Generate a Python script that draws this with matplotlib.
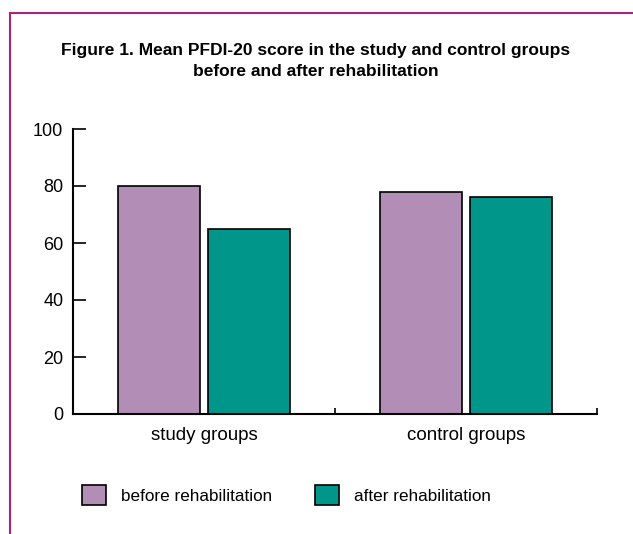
import matplotlib
matplotlib.use("Agg")
import matplotlib.pyplot as plt
from matplotlib.lines import Line2D
import numpy as np

plt.rcParams['font.family'] = ['Liberation Sans', 'DejaVu Sans']

# values
groups = ['study groups', 'control groups']
before = [80, 78]
after = [65, 76]
series_names = ['before rehabilitation', 'after rehabilitation']
colors = ['#b28db5', '#00968a']

fig = plt.figure(figsize=(6.33, 5.34), dpi=100)
ax = fig.add_axes([73/633, 1-414/534, (597-73)/633, (414-129)/534])

x = np.arange(len(groups))
w = 0.313
gap = 0.034
ax.bar(x - (w+gap)/2, before, w, color=colors[0], edgecolor='black', linewidth=1.2, label=series_names[0])
ax.bar(x + (w+gap)/2, after, w, color=colors[1], edgecolor='black', linewidth=1.2, label=series_names[1])

ax.set_xlim(-0.5, 1.5)
ax.set_ylim(0, 100)
ax.set_yticks([0, 20, 40, 60, 80, 100])
ax.set_xticks(x)
ax.set_xticklabels(groups, fontsize=13.5)
ax.set_xticks([0.5, 1.5], minor=True)
ax.tick_params(axis='x', which='major', length=0, pad=9)
ax.tick_params(axis='x', which='minor', direction='in', length=4, width=1.2)
ax.tick_params(axis='y', direction='in', length=9.5, width=1.2, labelsize=13, pad=7)
for s in ['top', 'right']:
    ax.spines[s].set_visible(False)
for s in ['left', 'bottom']:
    ax.spines[s].set_linewidth(1.5)

fig.text(0.499, 1-61.5/534, 'Figure 1. Mean PFDI-20 score in the study and control groups\nbefore and after rehabilitation',
         ha='center', va='center', fontsize=12.5, fontweight='bold', linespacing=1.5)

fig.legend(loc='center left', bbox_to_anchor=(82/633, 1-495/534), ncol=2, frameon=False,
           fontsize=12.3, handlelength=1.4, handleheight=1.4, handletextpad=0.9,
           columnspacing=2.5, borderpad=0, borderaxespad=0)

border = '#a3267d'
fig.add_artist(Line2D([10/633, 1], [1-13/534, 1-13/534], color=border, linewidth=1.5))
fig.add_artist(Line2D([10/633, 10/633], [0, 1-13/534], color=border, linewidth=1.5))

fig.savefig('out.png', dpi=100)
